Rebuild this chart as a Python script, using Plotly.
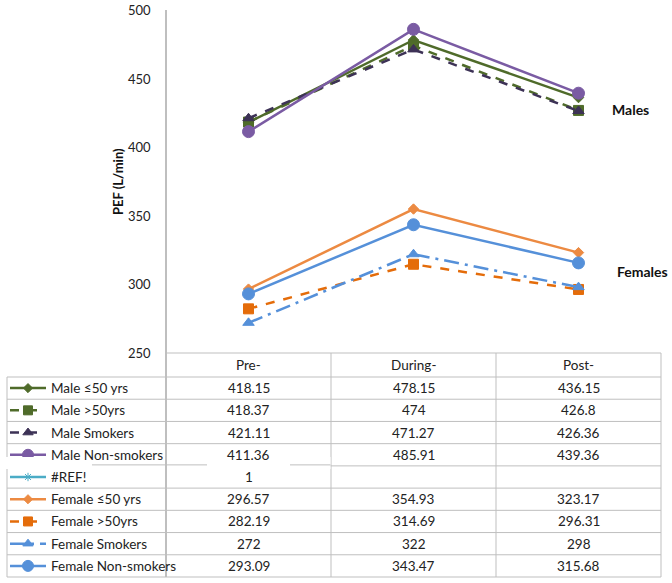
import plotly.graph_objects as go

# %% data
periods = ['Pre-', 'During-', 'Post-']
series_names = ['Male ≤50 yrs', 'Male >50yrs', 'Male Smokers', 'Male Non-smokers', '#REF!',
                'Female ≤50 yrs', 'Female >50yrs', 'Female Smokers', 'Female Non-smokers']
male_le50 = [418.15, 478.15, 436.15]
male_gt50 = [418.37, 474, 426.8]
male_smokers = [421.11, 471.27, 426.36]
male_nonsmokers = [411.36, 485.91, 439.36]
ref_err = [1, None, None]
female_le50 = [296.57, 354.93, 323.17]
female_gt50 = [282.19, 314.69, 296.31]
female_smokers = [272, 322, 298]
female_nonsmokers = [293.09, 343.47, 315.68]
y_ticks = [250, 300, 350, 400, 450, 500]

values = [male_le50, male_gt50, male_smokers, male_nonsmokers, ref_err,
          female_le50, female_gt50, female_smokers, female_nonsmokers]
colors = ['#4F6B2A', '#4F6B2A', '#3D3256', '#7A5BA3', '#4BACC6',
          '#EC8A42', '#E46C0A', '#5590D9', '#5590D9']
dashes = ['solid', 'dash', 'dash', 'solid', 'solid', 'solid', 'dash', 'longdashdot', 'solid']
symbols = ['diamond', 'square', 'triangle-up', 'circle', 'asterisk',
           'diamond', 'square', 'triangle-up', 'circle']
msizes = [8, 10, 10, 12, 8, 8, 10, 10, 12]

# %% geometry (pixels of the target picture)
W, H = 672, 583
FONT = 'Lato, Open Sans, sans-serif'
GRID = '#BFBFBF'
TXT = '#222222'
x_left, x_right = 166, 661
y_top, y_bot = 10, 353
head_bot = 377
row_h = (577 - head_bot) / 9
col_edges = [166, 331, 496, 661]
leg_left = 7


def px(x):
    return x / W


def py(y):
    return 1 - y / H


fig = go.Figure()

for name, vals, c, d, s, ms in zip(series_names, values, colors, dashes, symbols, msizes):
    fig.add_trace(go.Scatter(x=periods, y=vals, name=name, mode='lines+markers',
                             line=dict(color=c, width=2.5, dash=d),
                             marker=dict(symbol=s, size=ms, color=c,
                                         line=dict(color=c, width=1)),
                             showlegend=False))

# legend keys inside the data table (pixel axes)
for i, (c, d, s, ms) in enumerate(zip(colors, dashes, symbols, msizes)):
    yc = head_bot + (i + 0.5) * row_h
    fig.add_trace(go.Scatter(x=[10, 46], y=[yc, yc], mode='lines', xaxis='x2', yaxis='y2',
                             line=dict(color=c, width=2.5, dash=d), showlegend=False,
                             hoverinfo='skip'))
    fig.add_trace(go.Scatter(x=[28], y=[yc], mode='markers', xaxis='x2', yaxis='y2',
                             marker=dict(symbol=s, size=ms - 1, color=c,
                                         line=dict(color=c, width=1)),
                             showlegend=False, hoverinfo='skip'))

shapes = []


def hline(x0, x1, y):
    shapes.append(dict(type='line', xref='paper', yref='paper', x0=px(x0), x1=px(x1),
                       y0=py(y), y1=py(y), line=dict(color=GRID, width=1)))


def vline(x, y0, y1, w=1):
    shapes.append(dict(type='line', xref='paper', yref='paper', x0=px(x), x1=px(x),
                       y0=py(y0), y1=py(y1), line=dict(color=GRID, width=w)))


# table grid
hline(x_left, x_right, y_bot)
for i in range(10):
    hline(leg_left, x_right, head_bot + i * row_h)
vline(leg_left, head_bot, 577)
vline(x_left, y_top, 577, 2)
for xe in col_edges[1:]:
    vline(xe, y_bot, 577)

annotations = []
for yt in y_ticks:
    annotations.append(dict(x=px(153), y=py(y_bot - (yt - 250) * (y_bot - y_top) / 250),
                            xref='paper', yref='paper', text=str(yt), showarrow=False,
                            xanchor='right', yanchor='middle',
                            font=dict(family=FONT, size=13, color=TXT)))

for j, p in enumerate(periods):
    xc = (col_edges[j] + col_edges[j + 1]) / 2
    annotations.append(dict(x=px(xc), y=py((y_bot + head_bot) / 2), xref='paper', yref='paper',
                            text=p, showarrow=False, xanchor='center', yanchor='middle',
                            font=dict(family=FONT, size=13.5, color=TXT)))

for i, (name, vals) in enumerate(zip(series_names, values)):
    yc = head_bot + (i + 0.5) * row_h
    annotations.append(dict(x=px(49), y=py(yc), xref='paper', yref='paper', text=name,
                            showarrow=False, xanchor='left', yanchor='middle',
                            font=dict(family=FONT, size=13.5, color=TXT)))
    for j, v in enumerate(vals):
        if v is None:
            continue
        xc = (col_edges[j] + col_edges[j + 1]) / 2
        annotations.append(dict(x=px(xc), y=py(yc), xref='paper', yref='paper',
                                text=f'{v:g}', showarrow=False, xanchor='center',
                                yanchor='middle',
                                font=dict(family=FONT, size=13.5, color=TXT)))

annotations += [
    dict(x=px(118), y=py(181), xref='paper', yref='paper', text='<b>PEF (L/min)</b>',
         textangle=-90, showarrow=False, xanchor='center', yanchor='middle',
         font=dict(family=FONT, size=13, color='#111')),
    dict(x=px(630), y=py(109), xref='paper', yref='paper', text='<b>Males</b>',
         showarrow=False, xanchor='center', yanchor='middle',
         font=dict(family=FONT, size=14, color='#111')),
    dict(x=px(642), y=py(271), xref='paper', yref='paper', text='<b>Females</b>',
         showarrow=False, xanchor='center', yanchor='middle',
         font=dict(family=FONT, size=14, color='#111')),
]

# rendering glitch between "Male Non-smokers" and "#REF!" rows
glitch_y = head_bot + 4 * row_h
for a, b in [(0, 165), (167, 330.5)]:
    shapes.append(dict(type='rect', xref='paper', yref='paper', x0=px(a), x1=px(b),
                       y0=py(glitch_y - 9), y1=py(glitch_y + 3), fillcolor='white',
                       line=dict(width=0), layer='above'))
for a, b in [(92, 165), (167, 207), (290, 330.5)]:
    shapes.append(dict(type='line', xref='paper', yref='paper', x0=px(a), x1=px(b),
                       y0=py(glitch_y - 1), y1=py(glitch_y - 1),
                       line=dict(color=GRID, width=1), layer='above'))

fig.update_layout(
    width=W, height=H, margin=dict(l=0, r=0, t=0, b=0),
    paper_bgcolor='white', plot_bgcolor='rgba(0,0,0,0)',
    font=dict(family=FONT),
    xaxis=dict(domain=[px(x_left), px(x_right)], range=[-0.5, 2.5], showticklabels=False,
               showgrid=False, zeroline=False, showline=False, type='category'),
    yaxis=dict(domain=[py(y_bot), py(y_top)], range=[250, 500], showticklabels=False,
               showgrid=False, zeroline=False, showline=False),
    xaxis2=dict(domain=[0, 1], range=[0, W], visible=False, anchor='y2'),
    yaxis2=dict(domain=[0, 1], range=[H, 0], visible=False, anchor='x2'),
    shapes=shapes, annotations=annotations,
)

# drop the page's default body margin so the figure fills the window
fig.write_html('out.html', config={'displayModeBar': False},
               post_script="document.body.style.margin = '0px';")
